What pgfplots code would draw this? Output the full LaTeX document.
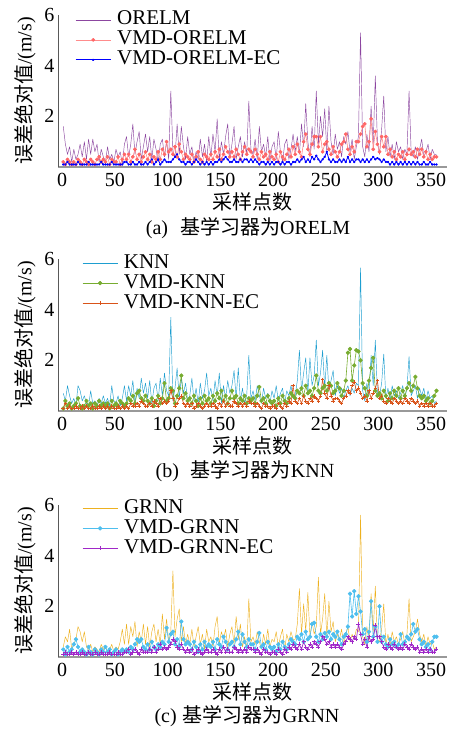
\documentclass[border=0pt]{standalone}
\usepackage{fontspec}
\setmainfont{Liberation Serif}
\newfontfamily\lat{Liberation Serif}
\newfontfamily\cjk{Noto Sans CJK SC}
\usepackage{pgfplots}
\usepackage{pgfplotstable}
\pgfplotsset{compat=1.18}

\definecolor{orelm}{RGB}{140,70,160}
\definecolor{vorelm}{RGB}{255,102,102}
\definecolor{eorelm}{RGB}{0,0,255}
\definecolor{knn}{RGB}{30,158,208}
\definecolor{vknn}{RGB}{119,172,48}
\definecolor{eknn}{RGB}{217,83,25}
\definecolor{grnn}{RGB}{237,177,32}
\definecolor{vgrnn}{RGB}{77,190,238}
\definecolor{egrnn}{RGB}{160,40,200}

% absolute errors, every second sample (x = 1, 3, ..., 355)
% a = base learner, b = VMD + learner, c = VMD + learner + EC
\pgfplotstableread{
a b c
1.6 0.2 0.1
0.9 0.1 0.1
0.5 0.3 0.2
0.8 0.2 0.1
0.2 0.1 0.1
0.7 0.2 0.1
0.3 0.1 0.1
0.5 0.3 0.2
0.9 0.2 0.1
0.4 0.1 0.1
1.0 0.3 0.1
0.3 0.2 0.1
1.1 0.1 0.2
0.5 0.3 0.1
1.1 0.2 0.1
0.6 0.1 0.1
0.9 0.3 0.1
0.2 0.4 0.1
0.7 0.2 0.2
0.4 0.3 0.1
0.2 0.2 0.1
0.8 0.4 0.1
0.3 0.1 0.1
0.5 0.3 0.2
0.2 0.2 0.1
0.7 0.2 0.1
0.4 0.4 0.1
0.6 0.1 0.1
0.1 0.3 0.1
0.9 0.5 0.2
1.2 0.3 0.2
0.4 0.5 0.1
0.9 0.2 0.1
1.7 0.4 0.2
0.5 0.7 0.1
1.0 0.3 0.1
1.4 0.5 0.2
0.3 0.2 0.1
0.8 0.4 0.1
1.3 0.6 0.2
0.6 0.3 0.1
1.2 0.5 0.2
0.3 0.2 0.3
1.1 0.4 0.1
0.7 0.3 0.2
0.2 0.6 0.3
0.9 0.3 0.1
1.1 0.7 0.2
0.4 0.5 0.3
1.0 1.0 0.2
0.3 0.6 0.2
3.0 0.7 0.2
0.6 0.5 0.3
0.4 0.8 0.4
1.7 0.4 0.5
0.5 0.9 0.3
1.6 0.6 0.2
0.8 0.3 0.2
0.3 0.5 0.1
1.2 0.4 0.2
0.5 0.3 0.2
0.8 0.5 0.1
0.2 0.2 0.2
0.6 0.4 0.3
0.3 0.6 0.2
1.1 0.3 0.1
0.4 0.2 0.2
0.9 0.5 0.1
0.2 0.4 0.2
1.2 0.3 0.1
0.4 0.5 0.2
1.3 0.3 0.1
0.6 0.6 0.2
1.9 0.4 0.2
0.3 0.7 0.3
1.0 0.3 0.2
0.5 0.5 0.3
1.2 0.8 0.4
1.7 0.6 0.3
0.4 0.4 0.2
0.9 0.6 0.2
1.6 0.4 0.3
0.3 0.7 0.2
0.8 0.5 0.2
1.2 0.3 0.3
0.4 0.6 0.2
1.0 0.8 0.3
0.5 0.5 0.3
2.6 0.7 0.2
0.7 0.6 0.3
0.5 0.4 0.2
1.1 0.7 0.3
0.3 0.5 0.2
1.6 0.3 0.1
0.6 0.6 0.2
0.9 0.4 0.2
0.4 0.5 0.1
1.2 0.3 0.2
0.2 0.6 0.1
0.8 0.4 0.2
1.0 0.3 0.1
0.3 0.5 0.2
1.4 0.2 0.2
0.6 0.6 0.1
0.2 0.4 0.2
0.9 0.3 0.1
1.1 0.5 0.2
0.3 0.7 0.2
0.7 0.4 0.1
1.3 0.8 0.2
0.6 0.5 0.2
1.2 0.9 0.3
0.5 0.6 0.2
1.7 0.4 0.3
0.8 1.0 0.4
2.5 1.3 0.2
1.0 0.7 0.3
0.4 0.5 0.2
1.6 0.9 0.4
0.7 1.2 0.3
3.0 1.2 0.45
0.9 0.8 0.3
2.0 1.2 0.2
1.2 0.6 0.3
2.3 0.9 0.4
0.6 1.0 0.6
2.4 0.7 0.3
1.0 0.5 0.2
0.5 0.8 0.3
1.3 0.6 0.2
0.7 0.4 0.2
1.0 0.6 0.3
0.4 0.9 0.2
1.2 1.0 0.3
0.9 1.3 0.2
1.4 0.7 0.4
0.6 0.5 0.2
1.1 0.8 0.3
0.3 0.6 0.2
0.8 1.0 0.3
1.2 1.0 0.3
5.3 1.3 0.2
0.8 1.6 0.3
0.4 1.7 0.2
1.3 0.8 0.3
0.6 1.0 0.2
2.4 1.9 0.3
0.9 0.7 0.4
3.6 1.4 0.3
1.0 0.9 0.35
0.5 0.6 0.3
1.5 1.2 0.2
2.8 0.8 0.3
0.6 1.2 0.2
1.2 0.5 0.2
0.4 0.7 0.1
0.9 0.4 0.2
0.3 0.6 0.1
1.0 0.3 0.2
0.6 0.5 0.1
0.8 0.4 0.2
0.3 0.6 0.1
0.7 0.3 0.2
0.5 0.5 0.1
3.0 0.7 0.2
0.6 0.5 0.1
0.4 0.6 0.2
0.8 0.4 0.1
0.3 0.7 0.2
0.7 0.5 0.1
1.1 0.7 0.1
0.4 0.4 0.2
0.6 0.6 0.1
0.9 0.3 0.1
0.3 0.5 0.2
0.7 0.3 0.1
0.5 0.4 0.1
0.5 0.4 0.1
}\tabA

\pgfplotstableread{
a b c
0.7 0.1 0.1
0.4 0.4 0.3
1.0 0.2 0.1
0.6 0.3 0.2
0.3 0.1 0.1
0.5 0.2 0.1
0.2 0.3 0.2
1.0 0.5 0.1
0.8 0.2 0.1
0.4 0.1 0.2
0.6 0.2 0.1
0.3 0.4 0.2
0.2 0.2 0.1
0.8 0.3 0.1
0.3 0.1 0.2
0.4 0.3 0.1
0.2 0.2 0.1
0.5 0.4 0.2
0.3 0.2 0.1
0.6 0.3 0.2
0.3 0.2 0.1
0.5 0.3 0.2
0.2 0.1 0.1
1.0 0.4 0.2
0.4 0.2 0.1
0.3 0.3 0.1
0.6 0.2 0.2
0.2 0.4 0.1
0.5 0.3 0.2
1.0 0.2 0.1
0.4 0.3 0.2
1.0 0.5 0.1
0.6 0.4 0.3
1.2 0.6 0.2
0.3 0.3 0.2
0.9 0.7 0.3
0.5 0.8 0.2
1.3 0.5 0.4
0.7 0.4 0.3
1.1 0.6 0.2
0.5 0.4 0.2
1.2 0.3 0.3
0.3 0.5 0.2
0.9 0.2 0.4
1.1 0.4 0.3
0.4 0.6 0.2
1.3 0.3 0.5
0.6 0.5 0.3
1.5 1.1 0.4
0.8 0.4 0.3
0.6 0.5 0.4
3.7 0.9 0.8
0.4 0.8 0.5
0.9 0.3 0.2
1.7 0.6 0.3
0.5 0.9 0.5
1.3 1.4 0.6
0.7 0.5 0.3
1.1 0.7 0.2
0.4 0.4 0.3
0.6 0.5 0.2
1.3 0.3 0.3
0.4 0.6 0.1
0.9 0.4 0.2
0.3 0.2 0.3
1.1 0.5 0.2
0.5 0.3 0.1
0.8 0.6 0.2
1.5 0.4 0.3
0.6 0.5 0.2
0.9 0.3 0.2
0.4 0.6 0.3
1.2 0.4 0.2
0.6 0.7 0.1
1.5 0.5 0.3
0.3 0.8 0.2
1.0 0.4 0.4
0.5 0.6 0.2
1.2 0.3 0.3
0.7 0.5 0.2
1.0 0.8 0.2
1.6 0.5 0.4
0.5 0.6 0.3
1.7 0.3 0.2
0.4 0.5 0.3
0.9 0.4 0.2
0.3 0.6 0.3
0.6 0.3 0.2
2.2 0.5 0.4
0.5 0.4 0.3
0.8 0.5 0.3
0.4 0.3 0.2
1.0 0.6 0.3
0.6 0.95 0.2
0.3 0.4 0.1
0.9 0.5 0.3
0.5 0.3 0.2
0.7 0.6 0.2
0.3 0.4 0.1
0.8 0.3 0.2
0.5 0.4 0.2
1.0 0.2 0.1
0.4 0.5 0.3
0.7 0.3 0.2
0.9 0.6 0.1
0.3 0.4 0.3
0.8 0.3 0.2
0.6 0.5 0.4
1.0 0.7 0.3
0.5 0.6 1.0
0.6 0.5 0.4
1.2 0.8 0.3
2.4 0.7 0.5
0.8 0.9 0.3
1.5 0.6 0.6
2.1 1.0 0.4
0.7 0.7 0.3
2.1 0.8 0.5
1.0 0.6 0.4
1.4 0.9 0.6
2.8 1.4 0.5
1.0 0.8 0.4
1.5 0.7 0.6
2.4 0.9 1.25
0.9 1.0 0.7
2.2 0.8 0.5
0.8 1.1 1.0
1.2 1.0 0.6
1.6 0.7 0.4
0.6 0.8 0.5
1.0 1.1 0.5
0.7 0.9 0.4
0.9 0.6 0.3
0.5 0.8 0.5
0.8 1.2 0.6
1.0 2.3 0.8
0.6 2.45 0.7
0.9 1.2 1.0
0.7 1.8 1.15
1.1 2.4 0.8
1.0 2.35 0.9
5.65 2.0 0.7
0.8 1.1 0.5
0.4 0.9 0.6
1.1 0.6 0.4
0.6 1.2 0.8
2.2 1.7 0.5
1.0 2.1 0.7
2.8 0.8 0.9
0.7 0.6 1.2
0.6 0.7 0.5
1.1 0.5 0.6
2.25 0.8 0.4
0.5 0.6 0.3
0.9 0.4 0.5
0.4 0.7 0.4
1.0 0.5 0.3
0.6 0.8 0.5
0.8 0.6 0.4
0.5 0.9 0.3
0.7 0.5 0.4
1.0 0.8 0.3
0.5 0.6 0.5
0.9 0.9 0.4
2.15 1.1 0.3
0.6 0.8 0.5
0.8 1.0 0.4
1.0 1.35 0.3
0.5 0.9 0.4
0.9 0.6 0.2
0.6 0.5 0.3
0.9 0.6 0.2
0.4 0.4 0.3
0.8 0.5 0.2
0.5 0.3 0.3
0.6 0.4 0.2
0.3 0.6 0.2
0.4 0.8 0.3
}\tabB

\pgfplotstableread{
a b c
0.4 0.3 0.1
0.8 0.1 0.2
0.6 0.4 0.1
1.1 0.2 0.1
0.3 0.3 0.2
0.5 0.5 0.1
0.7 0.7 0.2
1.2 0.4 0.1
1.0 0.2 0.1
0.6 0.3 0.2
1.0 0.2 0.1
0.4 0.1 0.1
0.3 0.4 0.2
0.5 0.2 0.1
0.2 0.1 0.1
0.4 0.3 0.2
0.3 0.2 0.1
0.2 0.1 0.1
0.5 0.3 0.2
0.3 0.2 0.1
0.4 0.4 0.1
0.2 0.2 0.1
0.3 0.3 0.2
0.5 0.1 0.1
0.2 0.2 0.1
0.4 0.3 0.1
0.3 0.1 0.2
0.6 0.2 0.1
1.1 0.3 0.1
0.5 0.2 0.2
1.3 0.3 0.2
0.5 0.2 0.3
1.2 0.4 0.1
0.8 0.3 0.2
1.4 0.5 0.3
0.4 0.7 0.2
1.0 0.6 0.1
0.6 0.7 0.3
1.3 0.4 0.2
0.5 0.3 0.2
1.2 0.5 0.2
0.4 0.3 0.3
1.0 0.6 0.2
1.3 0.4 0.4
0.6 0.3 0.2
1.1 0.5 0.3
0.5 0.4 0.5
1.7 0.6 0.3
0.7 0.5 0.4
1.5 1.15 0.3
0.6 0.6 0.4
1.0 0.9 0.5
3.4 1.0 0.7
0.8 0.5 0.6
1.5 0.7 0.4
1.9 0.4 0.3
0.6 1.4 0.5
1.2 0.7 0.3
0.5 0.5 0.2
0.9 0.6 0.3
0.5 0.5 0.2
1.1 0.3 0.3
0.4 0.6 0.1
0.8 0.4 0.2
1.2 0.2 0.3
0.5 0.5 0.2
0.9 0.3 0.1
0.3 0.6 0.2
1.1 0.4 0.3
0.6 0.5 0.2
0.8 0.4 0.2
0.4 0.6 0.3
1.2 0.3 0.2
1.6 0.7 0.1
0.5 0.5 0.3
1.0 0.4 0.2
0.7 0.8 0.4
1.1 0.6 0.2
0.4 0.3 0.3
0.9 0.5 0.2
1.2 0.6 0.2
0.5 0.4 0.4
1.6 0.7 0.3
0.7 1.0 0.2
1.3 0.5 0.3
0.4 0.9 0.2
0.8 0.6 0.3
0.3 0.4 0.2
2.3 0.7 0.4
0.6 0.5 0.3
0.8 0.5 0.3
0.5 0.3 0.2
1.0 0.6 0.3
0.6 0.95 0.2
0.3 0.4 0.1
0.9 0.5 0.3
0.5 0.3 0.2
1.1 0.6 0.2
0.4 0.4 0.1
0.7 0.3 0.2
0.6 0.4 0.2
1.0 0.2 0.1
0.4 0.5 0.3
0.8 0.3 0.2
1.1 0.6 0.1
0.3 0.4 0.3
0.9 0.3 0.2
0.6 0.5 0.4
1.0 0.7 0.3
0.7 0.6 0.5
0.7 0.5 0.4
1.3 0.8 0.3
2.7 0.7 0.5
0.9 0.9 0.3
2.1 0.6 0.6
1.0 1.0 0.4
2.55 0.7 0.3
0.8 0.8 0.5
1.4 1.3 0.4
0.9 1.35 0.6
1.2 0.8 0.5
3.15 0.6 0.4
0.9 0.9 0.6
1.5 0.7 0.8
2.5 0.95 0.7
0.8 0.8 0.5
2.2 1.0 0.6
1.0 0.7 0.4
1.4 0.9 0.5
0.6 0.8 0.4
0.9 1.0 0.5
0.7 0.7 0.4
1.1 0.5 0.3
0.5 0.8 0.5
0.9 0.9 0.6
1.2 1.2 0.8
0.6 2.5 0.7
0.9 1.6 0.6
0.7 2.6 0.8
1.1 1.7 0.7
1.0 2.4 1.3
5.6 1.8 0.9
0.8 0.9 0.5
0.5 1.1 0.7
1.2 0.6 0.4
0.6 1.0 0.8
2.5 2.2 0.6
1.0 0.8 0.7
2.8 1.2 1.25
0.7 0.6 0.8
0.6 2.0 0.8
1.1 0.6 0.6
2.1 0.8 0.4
0.5 0.5 0.3
0.9 0.4 0.5
0.4 0.7 0.4
1.0 0.5 0.3
0.6 0.6 0.5
0.8 0.4 0.4
0.5 0.5 0.3
0.7 0.9 0.4
1.0 0.5 0.3
0.5 0.6 0.5
0.9 0.8 0.4
2.3 0.7 0.3
0.6 0.9 0.5
0.8 1.3 0.4
1.0 1.0 0.3
1.5 1.1 0.4
0.9 0.7 0.2
0.6 0.5 0.3
0.9 0.6 0.2
0.4 0.4 0.3
0.8 0.5 0.2
0.5 0.3 0.3
0.6 0.6 0.2
0.3 0.8 0.2
0.4 0.8 0.3
}\tabC

\pgfplotsset{
  panel/.style={
    scale only axis, width=389pt, height=152pt,
    xmin=-4, xmax=365, ymin=0, ymax=6,
    xtick={0,50,...,350}, ytick={2,4,6},
    axis x line=bottom, axis y line=left,
    x axis line style={-, draw=black!40, line width=1.2pt},
    y axis line style={-, draw=black!65, line width=0.6pt},
    major tick length=0pt,
    tick label style={font=\lat\fontsize{20}{20}\selectfont},
    /pgf/number format/assume math mode=true,
    xticklabel style={yshift=-3pt},
    label style={font=\fontsize{20}{22}\selectfont},
    xlabel={\cjk 采样点数},
    ylabel={\cjk 误差绝对值\lat /(m/s)},
    xlabel style={at={(axis description cs:0.5,-0.23)}, anchor=center},
    ylabel style={at={(axis description cs:-0.085,0.5)}, anchor=center},
    legend style={anchor=north west, draw=none, fill=none, inner sep=0pt,
      row sep=0pt, column sep=5pt, font=\lat\fontsize{21}{21}\selectfont,
      nodes={inner sep=1pt, text height=14pt, text depth=4pt}},
    legend cell align=left,
    legend image code/.code={\draw[mark repeat=2,mark phase=2,##1] plot coordinates {(0pt,0pt) (17.5pt,0pt) (35pt,0pt)};},
    every axis plot/.append style={line join=round},
  },
}

\begin{document}
\begin{tikzpicture}
\useasboundingbox (0pt,0pt) rectangle (450pt,-731pt);

\begin{axis}[panel, at={(58pt,-167pt)}, anchor=south west,
  legend style={at={(axis description cs:0.044,1.035)}}]
\addplot[orelm, line width=0.45pt, no markers] table[x expr=2*\coordindex+1, y=a] {\tabA};
\addplot[vorelm!75, line width=0.6pt, mark=*, mark size=1.6pt, mark options={fill=vorelm, draw=vorelm}] table[x expr=2*\coordindex+1, y=b] {\tabA};
\addplot[eorelm, line width=0.8pt, mark=*, mark size=0.8pt] table[x expr=2*\coordindex+1, y=c] {\tabA};
\legend{ORELM, VMD-ORELM, VMD-ORELM-EC}
\end{axis}
\node[font=\fontsize{20}{20}\selectfont] at (248pt,-228pt) {\lat (a)\hspace{0.6em}{\cjk 基学习器为}\lat ORELM};

\begin{axis}[panel, at={(58pt,-411pt)}, anchor=south west,
  legend style={at={(axis description cs:0.062,1.04)}}]
\addplot[knn, line width=0.45pt, no markers] table[x expr=2*\coordindex+1, y=a] {\tabB};
\addplot[vknn, line width=0.6pt, mark=*, mark size=1.9pt] table[x expr=2*\coordindex+1, y=b] {\tabB};
\addplot[eknn, line width=0.6pt, mark=+, mark size=1.8pt] table[x expr=2*\coordindex+1, y=c] {\tabB};
\legend{KNN, VMD-KNN, VMD-KNN-EC}
\end{axis}
\node[font=\fontsize{20}{20}\selectfont] at (245pt,-471pt) {\lat (b)\hspace{0.6em}{\cjk 基学习器为}\lat KNN};

\begin{axis}[panel, at={(58pt,-657pt)}, anchor=south west,
  legend style={at={(axis description cs:0.062,1.045)}}]
\addplot[grnn, line width=0.45pt, no markers] table[x expr=2*\coordindex+1, y=a] {\tabC};
\addplot[vgrnn, line width=0.6pt, mark=*, mark size=1.9pt] table[x expr=2*\coordindex+1, y=b] {\tabC};
\addplot[egrnn, line width=0.7pt, mark=+, mark size=2pt] table[x expr=2*\coordindex+1, y=c] {\tabC};
\legend{GRNN, VMD-GRNN, VMD-GRNN-EC}
\end{axis}
\node[font=\fontsize{20}{20}\selectfont] at (247pt,-716pt) {\lat (c)\hspace{0.3em}{\cjk 基学习器为}\lat GRNN};
\end{tikzpicture}
\end{document}
